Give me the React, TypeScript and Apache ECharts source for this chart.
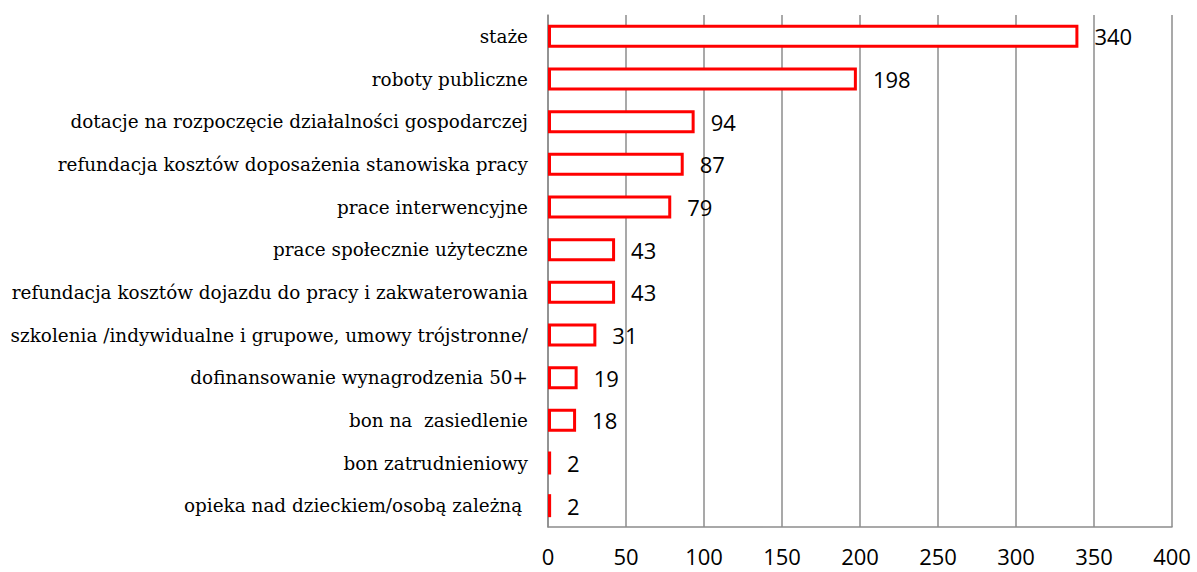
import React, { useEffect, useRef } from "react";
import * as echarts from "echarts";

const categories = [
  "staże",
  "roboty publiczne",
  "dotacje na rozpoczęcie działalności gospodarczej",
  "refundacja kosztów doposażenia stanowiska pracy",
  "prace interwencyjne",
  "prace społecznie użyteczne",
  "refundacja kosztów dojazdu do pracy i zakwaterowania",
  "szkolenia /indywidualne i grupowe, umowy trójstronne/",
  "dofinansowanie wynagrodzenia 50+",
  "bon na  zasiedlenie",
  "bon zatrudnieniowy",
  "opieka nad dzieckiem/osobą zależną ",
];
const values = [340, 198, 94, 87, 79, 43, 43, 31, 19, 18, 2, 2];
const xMin = 0;
const xMax = 400;
const xInterval = 50;

export default function App() {
  const ref = useRef<HTMLDivElement>(null);
  useEffect(() => {
    if (!ref.current) return;
    const chart = echarts.init(ref.current, null, { renderer: "svg" });
    chart.setOption({
      animation: false,
      backgroundColor: "#ffffff",
      grid: { left: 548, right: 25, top: 15, bottom: 45, containLabel: false },
      xAxis: {
        type: "value",
        min: xMin,
        max: xMax,
        interval: xInterval,
        axisLine: { show: true, lineStyle: { color: "#8c8c8c", width: 1.5 } },
        axisTick: { show: false },
        axisLabel: {
          color: "#000",
          fontFamily: "Open Sans",
          fontSize: 22,
          margin: 18,
        },
        splitLine: { show: true, lineStyle: { color: "#8c8c8c", width: 1.5 } },
      },
      yAxis: {
        type: "category",
        data: categories,
        inverse: true,
        axisLine: { show: true, lineStyle: { color: "#8c8c8c", width: 1.5 } },
        axisTick: { show: false },
        axisLabel: {
          color: "#000",
          fontFamily: "DejaVu Serif",
          fontSize: 18.4,
          margin: 20,
        },
      },
      series: [
        {
          type: "bar",
          data: values,
          barWidth: 23,
          itemStyle: { color: "#ffffff", borderColor: "#ff0000", borderWidth: 3 },
          label: {
            show: true,
            position: "right",
            distance: 16,
            color: "#000",
            fontFamily: "Open Sans",
            fontSize: 22,
          },
        },
      ],
    });
    return () => chart.dispose();
  }, []);
  return (
    <div
      ref={ref}
      style={{ position: "absolute", left: 0, top: 0, width: 1197, height: 572 }}
    />
  );
}
